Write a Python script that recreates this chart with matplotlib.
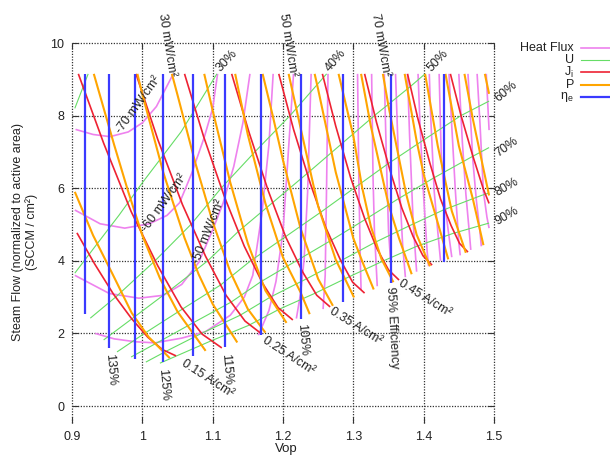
import matplotlib
matplotlib.use('Agg')
import matplotlib.pyplot as plt
from matplotlib.lines import Line2D

plt.rcParams['font.family'] = ['Liberation Sans', 'DejaVu Sans']
plt.rcParams['mathtext.fontset'] = 'custom'
plt.rcParams['mathtext.rm'] = 'Liberation Sans'
plt.rcParams['mathtext.it'] = 'Liberation Sans:italic'

# ---------------- data ----------------
x_ticks = [0.9, 1.0, 1.1, 1.2, 1.3, 1.4, 1.5]
x_tick_labels = ['0.9', '1', '1.1', '1.2', '1.3', '1.4', '1.5']
y_ticks = [0, 2, 4, 6, 8, 10]
y_tick_labels = ['0', '2', '4', '6', '8', '10']

F_TOP = 9.15  # upper end of the computed region

# efficiency (blue, vertical lines)
eff_pct = [140, 135, 130, 125, 120, 115, 110, 105, 100, 95, 90]
eff_V = [0.919, 0.953, 0.989, 1.029, 1.072, 1.118, 1.169, 1.225, 1.286, 1.354, 1.429]
eff_Fbot = [2.53, 1.60, 1.30, 1.20, 1.37, 1.63, 1.96, 2.40, 2.86, 3.39, 3.97]

# current density J (red)
J_levels = [0.15, 0.20, 0.25, 0.30, 0.35, 0.40, 0.45, 0.50, 0.55, 0.60]
J_V = [
    [0.907, 0.932, 0.959, 0.985, 1.008, 1.029, 1.048],
    [0.909, 0.945, 0.984, 1.022, 1.055, 1.085, 1.113],
    [0.991, 1.022, 1.057, 1.090, 1.119, 1.146, 1.170],
    [1.060, 1.087, 1.117, 1.145, 1.171, 1.193, 1.214],
    [1.127, 1.152, 1.179, 1.204, 1.228, 1.248, 1.267],
    [1.194, 1.215, 1.239, 1.261, 1.282, 1.299, 1.316],
    [1.256, 1.275, 1.296, 1.316, 1.334, 1.350, 1.365],
    [1.316, 1.333, 1.352, 1.369, 1.385, 1.399, 1.412],
    [1.377, 1.392, 1.409, 1.424, 1.439, 1.451, 1.463],
    [1.438, 1.453, 1.470, 1.485, 1.493],
]
J_F = [
    [4.77, 3.92, 3.08, 2.40, 1.89, 1.55, 1.38],
    [9.15, 7.24, 5.36, 3.86, 2.73, 1.98, 1.60],
    [9.15, 7.34, 5.55, 4.12, 3.05, 2.34, 1.98],
    [9.15, 7.43, 5.75, 4.40, 3.38, 2.71, 2.37],
    [9.15, 7.52, 5.93, 4.65, 3.69, 3.05, 2.73],
    [9.15, 7.62, 6.12, 4.91, 4.01, 3.41, 3.11],
    [9.15, 7.71, 6.30, 5.17, 4.32, 3.75, 3.47],
    [9.15, 7.81, 6.50, 5.45, 4.67, 4.14, 3.88],
    [9.15, 7.90, 6.68, 5.70, 4.97, 4.48, 4.24],
    [9.15, 8.01, 6.88, 5.97, 5.58],
]

# power density P (orange)
P_levels = [0.15, 0.20, 0.25, 0.30, 0.35, 0.40, 0.45, 0.50, 0.55, 0.60,
            0.65, 0.70, 0.75, 0.80, 0.85, 0.90, 0.95]
P_V = [
    [0.904, 0.930, 0.957, 0.985, 1.009, 1.039],
    [0.931, 0.960, 0.980, 1.000, 1.025, 1.050, 1.090],
    [0.993, 1.000, 1.030, 1.060, 1.080, 1.100, 1.135],
    [1.042, 1.050, 1.075, 1.100, 1.125, 1.150, 1.175],
    [1.088, 1.100, 1.125, 1.150, 1.175, 1.205],
    [1.132, 1.150, 1.175, 1.200, 1.225, 1.238],
    [1.171, 1.185, 1.200, 1.225, 1.250, 1.271],
    [1.208, 1.225, 1.250, 1.275, 1.301],
    [1.245, 1.250, 1.275, 1.300, 1.315, 1.329],
    [1.279, 1.300, 1.3125, 1.325, 1.340, 1.357],
    [1.311, 1.325, 1.350, 1.365, 1.383],
    [1.342, 1.350, 1.375, 1.390, 1.409],
    [1.373, 1.390, 1.400, 1.420, 1.435],
    [1.402, 1.420, 1.440, 1.460],
    [1.431, 1.450, 1.470, 1.485],
    [1.458, 1.470, 1.493],
    [1.487, 1.493],
]
P_F = [
    [5.90, 4.70, 3.66, 2.56, 1.90, 1.32],
    [9.15, 7.19, 5.90, 4.70, 3.52, 2.60, 1.52],
    [9.15, 8.59, 6.42, 4.63, 3.63, 2.81, 1.75],
    [9.15, 8.57, 6.72, 5.07, 3.70, 2.67, 2.02],
    [9.15, 8.14, 6.16, 4.48, 3.18, 2.29],
    [9.15, 7.47, 5.58, 4.09, 3.13, 2.53],
    [9.15, 8.03, 6.77, 4.89, 3.50, 2.76],
    [9.15, 7.66, 5.50, 4.03, 2.99],
    [9.15, 8.72, 6.44, 4.62, 3.87, 3.21],
    [9.15, 7.44, 6.02, 4.94, 4.05, 3.41],
    [9.15, 7.70, 5.55, 4.62, 3.63],
    [9.15, 8.26, 5.85, 4.72, 3.85],
    [9.15, 7.30, 6.38, 5.05, 4.04],
    [9.15, 7.17, 5.37, 4.22],
    [9.15, 7.17, 5.70, 4.43],
    [9.15, 7.90, 5.80],
    [9.15, 8.60],
]

# steam utilisation U (green)
U_levels = [0.2, 0.3, 0.4, 0.5, 0.6, 0.7, 0.8, 0.9]
U_V = [
    [0.904, 0.923],
    [0.904, 0.935, 0.967, 1.000, 1.055, 1.106],
    [0.926, 0.962, 1.018, 1.069, 1.112, 1.160, 1.210, 1.262],
    [0.945, 0.985, 1.040, 1.093, 1.136, 1.185, 1.234, 1.282, 1.330, 1.381, 1.402],
    [0.964, 1.003, 1.057, 1.111, 1.154, 1.204, 1.253, 1.301, 1.349, 1.400, 1.453, 1.493],
    [0.984, 1.018, 1.072, 1.126, 1.169, 1.219, 1.269, 1.317, 1.364, 1.415, 1.468, 1.493],
    [1.005, 1.033, 1.084, 1.139, 1.182, 1.233, 1.282, 1.330, 1.378, 1.428, 1.482, 1.493],
    [1.025, 1.096, 1.151, 1.195, 1.246, 1.294, 1.343, 1.390, 1.441, 1.493],
]
U_F = [
    [8.20, 9.15],
    [3.66, 4.45, 5.26, 6.15, 7.55, 9.15],
    [2.42, 3.00, 4.00, 5.00, 6.00, 7.00, 8.00, 9.15],
    [1.82, 2.40, 3.20, 4.00, 4.80, 5.60, 6.40, 7.20, 8.00, 8.80, 9.15],
    [1.49, 2.00, 2.67, 3.33, 4.00, 4.67, 5.33, 6.00, 6.67, 7.33, 8.00, 8.40],
    [1.35, 1.71, 2.29, 2.86, 3.43, 4.00, 4.57, 5.14, 5.71, 6.29, 6.86, 7.12],
    [1.21, 1.50, 2.00, 2.50, 3.00, 3.50, 4.00, 4.50, 4.95, 5.40, 5.80, 5.87],
    [1.18, 1.78, 2.22, 2.67, 3.11, 3.56, 4.00, 4.40, 4.75, 5.04],
]

# heat flux Q in mW/cm2 (violet)
Q_levels = [-70, -60, -50, -40, -30, -20, -10, 0, 10, 20, 30, 40, 50,
            60, 70, 80, 90, 100, 110, 120, 130]
Q_V = [
    [0.905, 0.930, 0.954, 0.980, 1.000, 1.020, 1.044],
    [0.904, 0.940, 0.975, 1.010, 1.035, 1.053, 1.070, 1.088, 1.100, 1.107],
    [0.904, 0.953, 0.995, 1.030, 1.056, 1.080, 1.100, 1.115, 1.130, 1.143, 1.153],
    [0.933, 0.960, 0.990, 1.018, 1.056, 1.090, 1.125, 1.145, 1.157, 1.170, 1.180, 1.186],
    [1.165, 1.180, 1.190, 1.200, 1.210, 1.215],
    [1.219, 1.225, 1.230, 1.235, 1.240],
    [1.257, 1.260, 1.262, 1.264],
    [1.286, 1.286],
    [1.306, 1.308, 1.310, 1.311],
    [1.326, 1.328, 1.330, 1.334],
    [1.344, 1.347, 1.350, 1.355],
    [1.360, 1.365, 1.370, 1.374],
    [1.377, 1.380, 1.385, 1.390],
    [1.392, 1.395, 1.400, 1.405, 1.407],
    [1.408, 1.410, 1.415, 1.420, 1.424],
    [1.422, 1.425, 1.430, 1.435, 1.440],
    [1.436, 1.440, 1.445, 1.450, 1.452],
    [1.450, 1.455, 1.460, 1.465, 1.467],
    [1.463, 1.470, 1.475, 1.480, 1.482],
    [1.476, 1.480, 1.485, 1.490, 1.493],
    [1.489, 1.493],
]
Q_F = [
    [7.62, 7.48, 7.42, 7.55, 7.80, 8.25, 9.15],
    [5.40, 5.02, 4.90, 5.02, 5.25, 5.60, 6.40, 7.40, 8.20, 9.15],
    [3.60, 3.10, 2.97, 3.05, 3.35, 3.95, 4.85, 5.60, 6.60, 7.80, 9.15],
    [2.00, 1.85, 1.77, 1.74, 1.87, 2.05, 2.50, 3.00, 3.60, 5.30, 7.20, 9.15],
    [1.95, 2.63, 3.43, 4.80, 7.70, 9.15],
    [2.41, 3.10, 4.03, 5.89, 9.15],
    [2.67, 3.60, 6.10, 9.15],
    [2.86, 9.15],
    [9.15, 6.00, 3.95, 3.20],
    [9.15, 6.30, 4.82, 3.30],
    [9.15, 6.80, 4.84, 3.40],
    [9.15, 6.30, 4.47, 3.55],
    [9.15, 7.44, 5.08, 3.70],
    [9.15, 7.67, 5.77, 4.24, 3.85],
    [9.15, 7.98, 5.91, 4.82, 4.00],
    [9.15, 6.90, 5.60, 4.82, 4.10],
    [9.15, 7.69, 5.95, 4.50, 4.15],
    [9.15, 7.27, 5.84, 4.76, 4.30],
    [9.15, 6.75, 5.65, 4.82, 4.40],
    [9.15, 7.80, 5.90, 5.20, 4.90],
    [9.15, 7.60],
]

# ---------------- styles ----------------
C_Q = '#ee82ee'
C_U = '#66dd66'
C_J = '#ee2233'
C_P = '#ffa500'
C_E = '#3a3aff'
TXT = '#222222'

W, H = 610, 457
fig = plt.figure(figsize=(W / 100, H / 100), dpi=100)
ax = fig.add_axes([72 / W, 1 - 423 / H, 422 / W, 380 / H])
ax.set_xlim(0.9, 1.5)
ax.set_ylim(-0.468, 10)
for s in ax.spines.values():
    s.set_visible(False)

grid_kw = dict(color='#333333', lw=0.9, ls=(0, (1, 1.2)), zorder=1, clip_on=False)
for xv in x_ticks:
    ax.axvline(xv, **grid_kw)
for yv in y_ticks:
    ax.axhline(yv, **grid_kw)

ax.set_xticks(x_ticks)
ax.set_xticklabels(x_tick_labels)
ax.set_yticks(y_ticks)
ax.set_yticklabels(y_tick_labels)
ax.tick_params(direction='in', length=4, width=0.8, top=True, right=True,
               labelsize=9, pad=5.5, colors='#333333', labelcolor=TXT)

# curves
for V, F in zip(Q_V, Q_F):
    ax.plot(V, F, color=C_Q, lw=1.2, zorder=2, solid_capstyle='butt')
for V, F in zip(U_V, U_F):
    ax.plot(V, F, color=C_U, lw=0.8, zorder=3, solid_capstyle='butt')
for V, F in zip(J_V, J_F):
    ax.plot(V, F, color=C_J, lw=1.2, zorder=4, solid_capstyle='butt')
for V, F in zip(P_V, P_F):
    ax.plot(V, F, color=C_P, lw=1.5, zorder=5, solid_capstyle='butt')
for v, fb in zip(eff_V, eff_Fbot):
    ax.plot([v, v], [fb, F_TOP], color=C_E, lw=1.6, zorder=6, solid_capstyle='butt')

# in-plot labels
def lab(x, y, s, rot):
    ax.text(x, y, s, rotation=rot, rotation_mode='anchor', ha='left', va='center',
            fontsize=9, color=TXT, zorder=8, clip_on=False)

lab(0.953, 1.45, '135%', -85)
lab(1.028, 1.03, '125%', -85)
lab(1.118, 1.45, '115%', -85)
lab(1.226, 2.28, '105%', -85)
lab(1.352, 3.28, '95% Efficiency', -87)

lab(1.058, 1.21, '0.15 A/cm²', -33)
lab(1.172, 1.82, '0.25 A/cm²', -33)
lab(1.267, 2.62, '0.35 A/cm²', -32)
lab(1.366, 3.40, '0.45 A/cm²', -32)

lab(1.108, 9.25, '30%', 47)
lab(1.263, 9.25, '40%', 49)
lab(1.408, 9.25, '50%', 47)
lab(1.503, 8.45, '60%', 40)
lab(1.503, 6.92, '70%', 36)
lab(1.503, 5.85, '80%', 30)
lab(1.503, 5.05, '90%', 30)

lab(0.966, 7.55, '-70 mW/cm²', 54)
lab(1.003, 4.85, '-60 mW/cm²', 54)
lab(1.077, 3.95, '-50 mW/cm²', 68)
lab(1.028, 10.80, '30 mW/cm²', -81)
lab(1.200, 10.80, '50 mW/cm²', -81)
lab(1.331, 10.80, '70 mW/cm²', -80)

# axis titles
fig.text(286 / W, 1 - 449 / H, 'Vop', ha='center', va='center', fontsize=9.5, color=TXT)
fig.text(25 / W, 1 - 232 / H, 'Steam Flow (normalized to active area)\n(SCCM / cm²)',
         rotation=90, ha='center', va='center', multialignment='center',
         fontsize=9, color=TXT, linespacing=1.15)

# legend (gnuplot style, outside right)
leg_names = ['Heat Flux', 'U', r'$\mathrm{J}_\mathrm{i}$', 'P', r'$\mathrm{\eta}_\mathrm{e}$']
leg_cols = [C_Q, C_U, C_J, C_P, C_E]
leg_lw = [1.2, 0.8, 1.2, 1.5, 1.6]
for i, (nm, c, lw) in enumerate(zip(leg_names, leg_cols, leg_lw)):
    yp = 48 + i * 12.2
    fig.text(574 / W, 1 - yp / H, nm, ha='right', va='center', fontsize=9, color=TXT)
    fig.add_artist(Line2D([581 / W, 630 / W], [1 - yp / H, 1 - yp / H],
                          transform=fig.transFigure, color=c, lw=lw))

fig.savefig('out.png', dpi=100, facecolor='white')
